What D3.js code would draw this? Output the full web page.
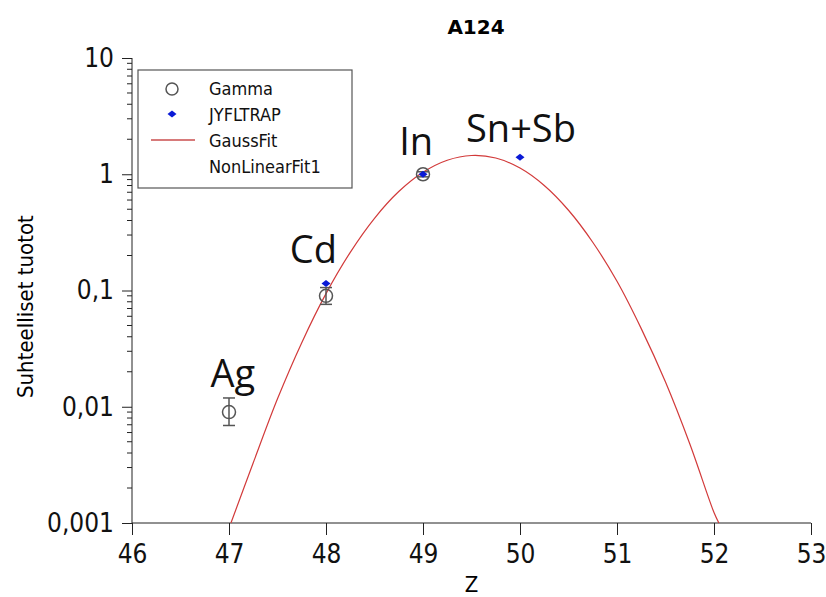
<!DOCTYPE html>
<html>
<head>
<meta charset="utf-8">
<script src="https://d3js.org/d3.v7.min.js"></script>
<style>
 body { margin: 0; background: #fff; }
 .axis text { font-family: "DejaVu Sans Condensed", "DejaVu Sans", sans-serif; font-size: 26px; fill: #111; }
 .axis path, .axis line { stroke: #222; }
</style>
</head>
<body>
<script>
 // data
 var gammaZ = [47, 48, 49];
 var gammaY = [0.009, 0.09, 1.0];
 var gammaLo = [0.0069, 0.076, 0.95];
 var gammaHi = [0.0119, 0.106, 1.05];

 var trapZ = [48, 49, 50];
 var trapY = [0.115, 1.0, 1.4];

 // GaussFit curve, read at quarter steps
 var fitZ = [47.02, 47.25, 47.5, 47.75, 48, 48.25, 48.5, 48.75, 49, 49.25, 49.5, 49.75, 50, 50.25, 50.5, 50.75, 51, 51.25, 51.5, 51.75, 52, 52.05];
 var fitY = [0.001, 0.0033, 0.0117, 0.0356, 0.094, 0.213, 0.418, 0.71, 1.04, 1.32, 1.45, 1.38, 1.13, 0.80, 0.49, 0.26, 0.12, 0.047, 0.0163, 0.0048, 0.00123, 0.001];

 // element labels, anchored in data coordinates
 var elemNames = ["Ag", "Cd", "In", "Sn+Sb"];
 var elemZ = [47.04, 47.87, 48.93, 50.01];
 var elemY = [0.0148, 0.172, 1.46, 1.88];

 var xTicks = [46, 47, 48, 49, 50, 51, 52, 53];
 var yTicks = [0.001, 0.01, 0.1, 1, 10];
 var yTickLabels = ["0,001", "0,01", "0,1", "1", "10"];
 var legendNames = ["Gamma", "JYFLTRAP", "GaussFit", "NonLinearFit1"];

 var w = 826, h = 597;
 var svg = d3.select("body").append("svg").attr("width", w).attr("height", h);

 var x = d3.scaleLinear().domain([46, 53]).range([132, 811]);
 var y = d3.scaleLog().domain([0.001, 10]).range([523, 58]);

 // minor ticks on y
 var minor = [];
 [0.001, 0.01, 0.1, 1].forEach(function(d) {
  for (var k = 2; k <= 9; k++) minor.push(d * k);
 });
 svg.append("g").selectAll("line").data(minor).enter().append("line")
    .attr("x1", x(46) - 5).attr("x2", x(46))
    .attr("y1", function(d) { return y(d); })
    .attr("y2", function(d) { return y(d); })
    .attr("stroke", "#222");

 svg.append("g").attr("class", "axis")
    .attr("transform", "translate(" + x(46) + ",0)")
    .call(d3.axisLeft(y).tickValues(yTicks).tickSize(10).tickPadding(8)
      .tickFormat(function(d, i) { return yTickLabels[i]; }))
    .call(function(g) { g.select(".domain").attr("d", "M0," + y(10) + "V" + y(0.001)); });

 svg.append("g").attr("class", "axis")
    .attr("transform", "translate(0," + y(0.001) + ")")
    .call(d3.axisBottom(x).tickValues(xTicks).tickSize(12).tickPadding(10).tickFormat(d3.format("d")))
    .call(function(g) { g.select(".domain").attr("d", "M" + x(46) + ",0H" + x(53)); });

 // fit curve
 var line = d3.line()
   .x(function(d, i) { return x(fitZ[i]); })
   .y(function(d) { return y(d); })
   .curve(d3.curveCatmullRom);
 svg.append("path").datum(fitY)
    .attr("d", line)
    .attr("fill", "none")
    .attr("stroke", "#d23a3a")
    .attr("stroke-width", 1.2);

 // gamma error bars
 var eb = svg.append("g").attr("stroke", "#555").attr("stroke-width", 1.5);
 gammaZ.forEach(function(z, i) {
  eb.append("line").attr("x1", x(z)).attr("x2", x(z)).attr("y1", y(gammaLo[i])).attr("y2", y(gammaHi[i]));
  eb.append("line").attr("x1", x(z) - 6).attr("x2", x(z) + 6).attr("y1", y(gammaLo[i])).attr("y2", y(gammaLo[i]));
  eb.append("line").attr("x1", x(z) - 6).attr("x2", x(z) + 6).attr("y1", y(gammaHi[i])).attr("y2", y(gammaHi[i]));
 });
 svg.append("g").selectAll("circle").data(gammaY).enter().append("circle")
    .attr("cx", function(d, i) { return x(gammaZ[i]); })
    .attr("cy", function(d) { return y(d); })
    .attr("r", 6.5)
    .attr("fill", "none")
    .attr("stroke", "#555")
    .attr("stroke-width", 1.5);

 var diamond = "M0,-3.5L4.5,0L0,3.5L-4.5,0Z";
 svg.append("g").selectAll("path").data(trapY).enter().append("path")
    .attr("d", diamond)
    .attr("transform", function(d, i) { return "translate(" + x(trapZ[i]) + "," + y(d) + ")"; })
    .attr("fill", "#0a1ad6");

 svg.append("g").selectAll("text").data(elemNames).enter().append("text")
    .attr("x", function(d, i) { return x(elemZ[i]); })
    .attr("y", function(d, i) { return y(elemY[i]); })
    .attr("text-anchor", "middle")
    .attr("font-family", "Open Sans, sans-serif")
    .attr("font-size", 38)
    .attr("fill", "#111")
    .text(function(d) { return d; });

 // title and axis titles
 svg.append("text").attr("x", 476).attr("y", 34).attr("text-anchor", "middle")
    .attr("font-family", "DejaVu Sans, sans-serif").attr("font-weight", "bold").attr("font-size", 20)
    .text("A124");
 svg.append("text").attr("x", (x(46) + x(53)) / 2).attr("y", 592).attr("text-anchor", "middle")
    .attr("font-family", "DejaVu Sans Condensed, DejaVu Sans, sans-serif").attr("font-size", 22)
    .text("Z");
 svg.append("text").attr("transform", "translate(33,398) rotate(-90)").attr("text-anchor", "start")
    .attr("font-family", "DejaVu Sans Condensed, DejaVu Sans, sans-serif").attr("font-size", 22)
    .text("Suhteelliset tuotot");

 // legend
 var lg = svg.append("g").attr("transform", "translate(138,70)");
 lg.append("rect").attr("width", 214).attr("height", 118)
   .attr("fill", "#fff").attr("stroke", "#555").attr("stroke-width", 1.2);
 lg.selectAll("text").data(legendNames).enter().append("text")
   .attr("x", 71).attr("y", function(d, i) { return 25 + i * 26; })
   .attr("font-family", "DejaVu Sans Condensed, DejaVu Sans, sans-serif").attr("font-size", 18).attr("fill", "#111")
   .text(function(d) { return d; });
 lg.append("circle").attr("cx", 34).attr("cy", 19).attr("r", 6)
   .attr("fill", "none").attr("stroke", "#555").attr("stroke-width", 1.5);
 lg.append("path").attr("d", diamond).attr("transform", "translate(34,44)").attr("fill", "#0a1ad6");
 lg.append("line").attr("x1", 13).attr("x2", 57).attr("y1", 70).attr("y2", 70)
   .attr("stroke", "#d77a7a").attr("stroke-width", 2);
</script>
</body>
</html>
